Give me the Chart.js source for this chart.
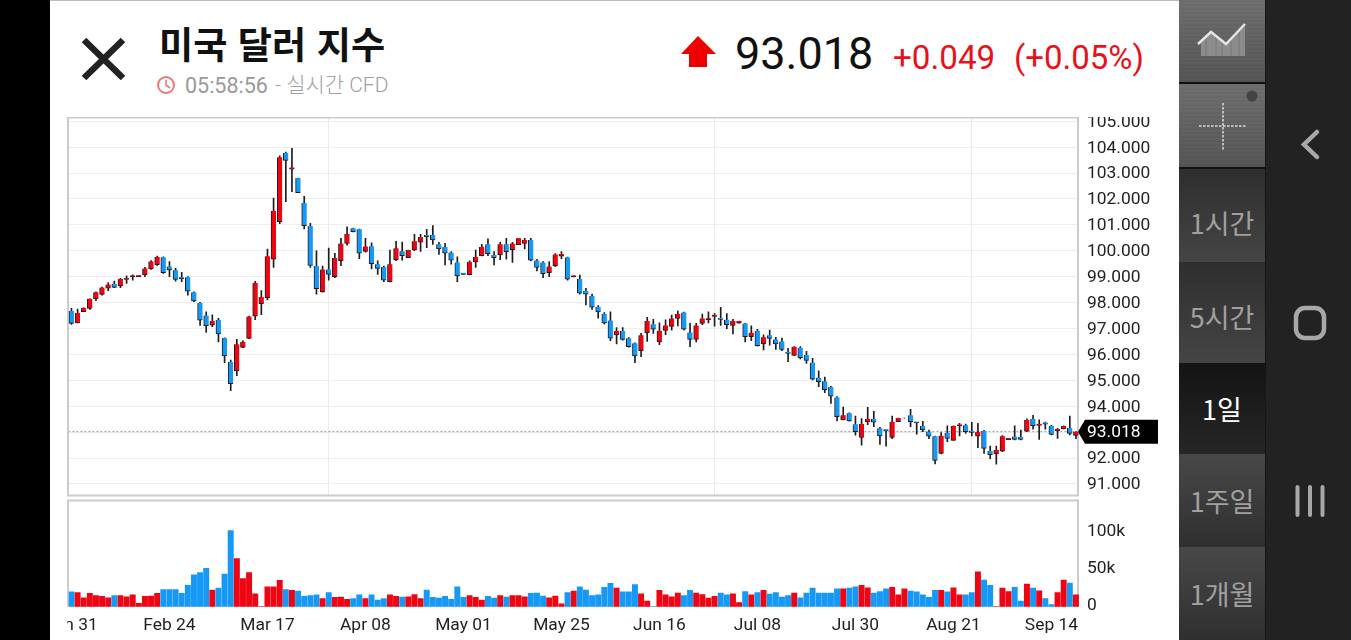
<!DOCTYPE html>
<html lang="ko">
<head>
<meta charset="utf-8">
<title>미국 달러 지수</title>
<script src="https://cdn.jsdelivr.net/npm/chart.js@4"></script>
<style>
  html, body { margin: 0; width: 1351px; height: 640px; overflow: hidden; background: #000; }
  body { position: relative; font-family: Roboto, "Noto Sans CJK KR", sans-serif; }
  #panel { position: absolute; left: 50px; top: 0; width: 1129px; height: 640px; background: #fff; border-top: 1px solid #bbb; box-sizing: border-box; }
  canvas { position: absolute; }
  #plotPrecio { left: 67px; top: 117px; }
  #plotVolumen { left: 67px; top: 498px; }
  .txt { position: absolute; white-space: nowrap; line-height: 1; }
  #titulo { left: 159px; top: 25px; font: 700 37.2px/1 "Noto Sans CJK KR"; color: #111; }
  #hora { left: 185px; top: 75px; font-size: 21.5px; color: #999; }
  #fuente { left: 275px; top: 75px; font: 300 21px/1 Roboto, "Noto Sans CJK KR"; color: #a0a0a0; }
  #precio { left: 735px; top: 31px; font-size: 45px; color: #111; }
  #cambio { left: 893px; top: 41px; font-size: 33.2px; color: #e8101a; }
  #cambioPct { left: 1014px; top: 41px; font-size: 33px; color: #e8101a; }
  #lado { position: absolute; left: 1179px; top: 0; width: 87px; height: 640px; background: #222; border-right: 1px solid #151515; box-sizing: border-box; }
  .boton { position: absolute; left: 0; width: 86px; box-sizing: border-box; display: flex; align-items: center; justify-content: center; font: 400 27px/1 "Noto Sans CJK KR"; color: #a0a0a0; }
  .claro { background: repeating-linear-gradient(rgba(0,0,0,.04) 0 2px, rgba(0,0,0,0) 2px 4px), linear-gradient(#707070, #565656); border-bottom: 2px solid #111; }
  .oscuro { background: linear-gradient(#2e2e2e, #454545); }
  .oscuro2 { background: linear-gradient(#484848, #2f2f2f); }
  .activo { background: linear-gradient(#141414, #262626); color: #fff; }
  #nav { position: absolute; left: 1266px; top: 0; width: 85px; height: 640px; background: #222; }
  svg { position: absolute; }
</style>
</head>
<body>
<div id="panel"></div>

<svg style="left:80px;top:35px" width="48" height="48"><path d="M4 5 L43 43 M43 5 L4 43" stroke="#222" stroke-width="6.5" fill="none"/></svg>
<div class="txt" id="titulo">미국 달러 지수</div>
<svg style="left:156px;top:75px" width="20" height="20"><circle cx="10" cy="10" r="8" stroke="#e77" stroke-width="2" fill="none"/><path d="M10 5 V10 L14 13" stroke="#e77" stroke-width="1.6" fill="none"/></svg>
<div class="txt" id="hora">05:58:56</div>
<div class="txt" id="fuente">- 실시간 CFD</div>
<svg style="left:680px;top:35px" width="38" height="34"><path d="M18 1 L36 19 H27 V32 H9 V19 H1 Z" fill="#ee0000"/></svg>
<div class="txt" id="precio">93.018</div>
<div class="txt" id="cambio">+0.049</div>
<div class="txt" id="cambioPct">(+0.05%)</div>

<canvas id="plotPrecio" width="1111" height="381"></canvas>
<canvas id="plotVolumen" width="1111" height="142"></canvas>

<div id="lado">
  <div class="boton claro" style="top:0;height:84px">
    <svg style="left:17px;top:18px" width="54" height="42"><path d="M5 24 L15 15 V38 H5 Z M15 15 L30 27 L49 8 V38 H15 Z" fill="#8c8c8c"/><path d="M10 20 V38 M20 19 V38 M26 24 V38 M35 22 V38 M43 14 V38" stroke="#777" stroke-width="1"/><path d="M2 26 L15 14 L30 26 L49 6" stroke="#e4e4e4" stroke-width="2.5" fill="none"/></svg>
  </div>
  <div class="boton claro" style="top:84px;height:85px">
    <svg style="left:19px;top:17px" width="50" height="50"><path d="M1 25 H48 M25 2 V49" stroke="#ddd" stroke-width="1.5" stroke-dasharray="2.5 1.5" fill="none"/></svg>
    <svg style="left:66px;top:5px" width="14" height="14"><circle cx="7" cy="7" r="5.5" fill="#444"/></svg>
  </div>
  <div class="boton oscuro" style="top:169px;height:93px;padding-top:14px">1시간</div>
  <div class="boton oscuro" style="top:262px;height:101px;padding-top:8px">5시간</div>
  <div class="boton activo" style="top:363px;height:91px">1일</div>
  <div class="boton oscuro2" style="top:454px;height:93px">1주일</div>
  <div class="boton oscuro2" style="top:547px;height:93px">1개월</div>
</div>

<div id="nav">
  <svg style="left:30px;top:125px" width="30" height="38"><path d="M21 7 L8 19.5 L21 32" stroke="#a8a8a8" stroke-width="4.5" fill="none" stroke-linecap="round"/></svg>
  <svg style="left:24px;top:302px" width="40" height="42"><rect x="6" y="6" width="28" height="30" rx="9" stroke="#a8a8a8" stroke-width="4.5" fill="none"/></svg>
  <svg style="left:26px;top:482px" width="40" height="38"><path d="M5.5 5 V33 M18 5 V33 M30.5 5 V33" stroke="#a8a8a8" stroke-width="4" fill="none" stroke-linecap="round"/></svg>
</div>

<script>
// datos
const tickLabels = ['Jan 31', 'Feb 24', 'Mar 17', 'Apr 08', 'May 01', 'May 25', 'Jun 16', 'Jul 08', 'Jul 30', 'Aug 21', 'Sep 14'];
const cadaTick = 16;
const lineasMes = [42, 105, 147];
const ticksVolumen = [0, 50000, 100000];
const precioActual = 93.018;

const opens = [
  97.68, 97.22, 97.65, 97.78, 98.15, 98.32, 98.56, 98.73, 98.64, 98.89,
  98.99, 99.00, 99.08, 99.30, 99.46, 99.75, 99.39, 99.25, 98.96, 98.98,
  98.40, 97.98, 97.50, 97.13, 97.33, 96.63, 95.71, 95.36, 96.27, 96.62,
  97.48, 97.96, 98.19, 99.68, 101.12, 103.78, 103.15, 102.81, 101.85, 100.96,
  99.41, 98.41, 99.28, 99.00, 99.62, 100.28, 100.87, 100.83, 99.98, 100.18,
  99.48, 99.37, 98.81, 99.66, 99.98, 99.73, 100.03, 100.33, 100.58, 100.61,
  100.25, 100.15, 99.93, 99.55, 99.10, 99.08, 99.57, 99.81, 100.25, 99.84,
  99.85, 100.25, 100.04, 100.24, 100.28, 100.42, 99.63, 99.55, 99.16, 99.43,
  99.79, 99.75, 98.99, 98.91, 98.46, 98.25, 97.84, 97.56, 97.31, 96.75,
  96.90, 96.62, 96.43, 96.14, 96.84, 97.16, 96.48, 96.93, 97.08, 97.39,
  97.62, 96.85, 96.58, 97.20, 97.34, 97.47, 97.39, 97.34, 97.12, 97.21,
  97.19, 96.68, 96.91, 96.40, 96.74, 96.58, 96.50, 96.10, 95.96, 96.26,
  95.98, 95.68, 95.10, 94.96, 94.74, 94.34, 93.48, 93.73, 93.30, 92.79,
  93.39, 93.52, 93.15, 93.06, 92.79, 93.40, 93.54, 93.65, 93.37, 93.24,
  93.02, 92.84, 92.18, 92.97, 92.68, 93.24, 93.26, 93.00, 92.84, 93.04,
  92.27, 92.16, 92.26, 92.71, 92.83, 92.81, 93.04, 93.51, 93.26, 93.34,
  93.25, 93.06, 93.12, 93.16, 92.87
];
const highs = [
  97.78, 97.75, 97.80, 98.15, 98.42, 98.60, 98.77, 98.83, 98.94, 99.03,
  99.07, 99.02, 99.36, 99.62, 99.80, 99.77, 99.58, 99.32, 99.17, 99.00,
  98.42, 98.01, 97.64, 97.53, 97.39, 96.64, 95.78, 96.58, 96.52, 97.48,
  98.82, 98.46, 100.07, 102.04, 103.67, 103.81, 103.96, 102.81, 102.10, 101.06,
  100.00, 99.41, 100.10, 99.90, 100.48, 100.93, 100.88, 100.84, 100.48, 100.31,
  99.61, 99.41, 100.03, 100.37, 100.34, 100.03, 100.64, 100.64, 100.83, 100.97,
  100.33, 100.29, 99.97, 99.77, 99.10, 99.61, 100.03, 100.25, 100.46, 99.97,
  100.33, 100.48, 100.33, 100.48, 100.48, 100.48, 99.67, 99.58, 99.58, 99.89,
  99.97, 99.76, 99.03, 99.06, 98.55, 98.33, 97.88, 97.61, 97.64, 97.04,
  97.04, 96.65, 96.45, 96.81, 97.43, 97.35, 97.22, 97.33, 97.52, 97.67,
  97.63, 97.20, 97.20, 97.56, 97.64, 97.58, 97.82, 97.58, 97.35, 97.29,
  97.20, 97.10, 96.97, 96.76, 96.94, 96.66, 96.63, 96.23, 96.30, 96.30,
  96.12, 95.85, 95.37, 95.12, 94.77, 94.37, 93.97, 93.74, 93.62, 93.52,
  93.96, 93.80, 93.18, 93.08, 93.62, 93.54, 93.54, 93.88, 93.37, 93.42,
  93.08, 92.85, 92.98, 93.24, 93.24, 93.34, 93.31, 93.38, 93.34, 93.07,
  92.46, 92.46, 92.87, 92.73, 93.24, 93.08, 93.51, 93.65, 93.47, 93.39,
  93.26, 93.15, 93.24, 93.62, 93.02
];
const lows = [
  97.16, 97.22, 97.65, 97.74, 98.07, 98.29, 98.46, 98.58, 98.58, 98.74,
  98.87, 99.00, 99.00, 99.28, 99.44, 99.13, 99.00, 98.83, 98.81, 98.29,
  98.04, 97.12, 96.85, 97.07, 96.48, 95.68, 94.60, 95.18, 96.26, 96.61,
  97.34, 97.53, 98.10, 99.36, 101.05, 101.90, 102.28, 102.24, 100.84, 99.36,
  98.33, 98.40, 98.87, 98.96, 99.43, 100.22, 100.73, 99.70, 99.95, 99.30,
  99.09, 98.81, 98.80, 99.62, 99.64, 99.73, 100.00, 99.98, 100.12, 100.25,
  99.86, 99.45, 99.48, 98.81, 99.09, 99.07, 99.36, 99.80, 99.81, 99.45,
  99.66, 99.68, 99.55, 100.24, 100.07, 99.61, 99.22, 98.96, 99.00, 99.39,
  99.70, 98.87, 98.99, 98.33, 97.91, 97.74, 97.40, 97.17, 96.53, 96.40,
  96.55, 96.28, 95.68, 95.91, 96.50, 96.81, 96.38, 96.76, 96.94, 97.10,
  96.94, 96.30, 96.48, 97.15, 97.22, 97.09, 97.12, 96.99, 96.79, 97.21,
  96.48, 96.53, 96.32, 96.17, 96.36, 96.19, 96.14, 95.72, 95.96, 95.83,
  95.65, 95.01, 94.75, 94.52, 94.11, 93.43, 93.47, 93.42, 92.88, 92.50,
  93.29, 93.21, 92.52, 92.46, 92.75, 93.40, 93.54, 93.21, 92.92, 93.02,
  92.75, 91.77, 92.16, 92.63, 92.68, 92.85, 92.95, 92.85, 92.40, 92.18,
  91.97, 91.76, 92.24, 92.71, 92.70, 92.70, 93.02, 93.11, 92.72, 93.11,
  92.89, 92.76, 93.12, 92.89, 92.75
];
const closes = [
  97.20, 97.60, 97.80, 98.15, 98.40, 98.58, 98.70, 98.59, 98.91, 98.95,
  99.01, 99.02, 99.32, 99.59, 99.76, 99.16, 99.26, 98.89, 98.92, 98.44,
  98.06, 97.32, 97.11, 97.29, 96.79, 95.94, 94.87, 96.39, 96.49, 97.46,
  98.76, 98.22, 99.79, 101.54, 103.61, 103.49, 103.22, 102.24, 100.97, 99.44,
  98.54, 99.28, 99.09, 99.72, 100.28, 100.65, 100.74, 99.91, 100.17, 99.50,
  99.32, 98.87, 99.48, 100.10, 99.81, 100.03, 100.37, 100.53, 100.55, 100.42,
  100.07, 99.91, 99.64, 99.03, 99.09, 99.57, 99.76, 100.15, 99.89, 99.73,
  100.25, 99.97, 100.28, 100.48, 100.42, 99.64, 99.36, 99.12, 99.39, 99.86,
  99.88, 98.90, 99.03, 98.36, 98.33, 97.82, 97.64, 97.22, 96.63, 96.91,
  96.58, 96.30, 95.94, 96.74, 97.29, 96.97, 96.91, 97.12, 97.39, 97.56,
  96.97, 96.58, 97.12, 97.39, 97.39, 97.49, 97.35, 97.15, 97.29, 97.29,
  96.68, 96.84, 96.34, 96.66, 96.62, 96.40, 96.19, 96.04, 96.30, 95.87,
  95.77, 95.04, 94.95, 94.64, 94.39, 93.60, 93.65, 93.43, 93.02, 93.31,
  93.52, 93.38, 92.85, 93.05, 93.40, 93.54, 93.54, 93.40, 93.35, 93.08,
  92.84, 91.91, 92.86, 92.76, 93.24, 93.27, 93.02, 92.99, 93.00, 92.37,
  92.13, 92.31, 92.84, 92.73, 92.72, 92.72, 93.47, 93.25, 93.30, 93.31,
  92.91, 93.08, 93.24, 92.95, 93.018
];
const volumes = [
  20000, 19000, 12000, 18000, 15000, 14000, 12000, 15000, 15000, 13500,
  16000, 4500, 14000, 14500, 18000, 23000, 23000, 23000, 18000, 29000,
  43000, 46000, 52000, 22500, 25000, 44000, 103000, 65000, 38000, 46000,
  17500, 0, 27000, 27000, 35500, 23000, 22000, 21000, 14000, 15000,
  16000, 11000, 19000, 12500, 13000, 10000, 11000, 16000, 11000, 16000,
  9000, 11000, 16000, 14000, 13000, 13500, 16500, 11000, 22500, 12500,
  11500, 14000, 10000, 27000, 12500, 15000, 12500, 9000, 14000, 11500,
  15000, 13000, 15000, 15000, 13500, 18000, 18500, 14500, 12000, 14500,
  4000, 19000, 21000, 27000, 22500, 15000, 16000, 26000, 31500, 25000,
  20000, 20000, 30000, 17500, 7500, 0, 22000, 16000, 13500, 18500,
  15000, 22000, 18500, 16500, 11500, 14000, 18500, 16000, 17500, 5500,
  20500, 16000, 19000, 22000, 17000, 19000, 13000, 15000, 18500, 12000,
  18500, 25000, 18500, 18500, 18500, 24000, 24000, 25000, 27000, 29000,
  25500, 18500, 20500, 24000, 26000, 16000, 24000, 21000, 20000, 16000,
  12500, 22000, 22000, 20000, 25500, 16000, 16000, 19000, 47000, 36000,
  29000, 0, 25000, 20500, 26000, 7500, 30500, 25000, 21500, 11000,
  3000, 19000, 36000, 32000, 16000
];

const ROJO = '#ee0412';
const AZUL = '#1699f6';
const TINTA = '#1c1c1c';
const FUENTE = 'Roboto';
const COLOR_TEXTO = '#222';

Chart.defaults.font.family = FUENTE;
Chart.defaults.font.size = 17.4;
Chart.defaults.color = COLOR_TEXTO;
Chart.defaults.animation = false;
Chart.defaults.responsive = false;

let etiquetas = opens.map((_, i) => i % cadaTick === 0 ? tickLabels[i / cadaTick] : '');
let colores = opens.map((o, i) => closes[i] >= o ? ROJO : AZUL);

// marco y linea punteada del precio actual, por debajo de las velas
let marcoPrecio = {
  id: 'marcoPrecio',
  beforeDatasetsDraw(chart) {
    let {ctx, chartArea: a, scales} = chart;
    let y = scales.y.getPixelForValue(precioActual);
    ctx.save();
    ctx.strokeStyle = '#999';
    ctx.lineWidth = 1;
    ctx.setLineDash([2, 2]);
    ctx.beginPath();
    ctx.moveTo(a.left, y);
    ctx.lineTo(a.right, y);
    ctx.stroke();
    ctx.setLineDash([]);
    ctx.strokeStyle = '#ccc';
    ctx.lineWidth = 2;
    ctx.strokeRect(a.left - 0.4, a.top - 0.5, a.width - 0.6, a.height);
    ctx.restore();
  },
  afterDraw(chart) {
    let {ctx, chartArea: a, scales} = chart;
    let y = scales.y.getPixelForValue(precioActual);
    ctx.save();
    ctx.fillStyle = '#000';
    ctx.beginPath();
    ctx.moveTo(a.right - 1, y);
    ctx.lineTo(a.right + 6, y - 12);
    ctx.lineTo(a.right + 79, y - 12);
    ctx.lineTo(a.right + 79, y + 12);
    ctx.lineTo(a.right + 6, y + 12);
    ctx.closePath();
    ctx.fill();
    ctx.fillStyle = '#fff';
    ctx.font = '17.4px ' + FUENTE;
    ctx.textBaseline = 'middle';
    ctx.fillText(precioActual.toFixed(3), a.right + 8, y + 1);
    ctx.restore();
  }
};

let marcoVolumen = {
  id: 'marcoVolumen',
  beforeDatasetsDraw(chart) {
    let {ctx, chartArea: a} = chart;
    ctx.save();
    ctx.strokeStyle = '#ccc';
    ctx.lineWidth = 2;
    ctx.beginPath();
    ctx.moveTo(a.left - 0.4, a.bottom);
    ctx.lineTo(a.left - 0.4, a.top - 0.5);
    ctx.lineTo(a.right - 1, a.top - 0.5);
    ctx.lineTo(a.right - 1, a.bottom);
    ctx.stroke();
    ctx.lineWidth = 1;
    ctx.strokeStyle = '#ddd';
    ctx.beginPath();
    ctx.moveTo(a.left, a.bottom);
    ctx.lineTo(a.right, a.bottom);
    ctx.stroke();
    ctx.restore();
  }
};

let cargarPrecio = () => {
  let plotRef = document.getElementById('plotPrecio');
  let config = {
    type: 'bar',
    data: {
      labels: etiquetas,
      datasets: [
        {
          label: 'Mecha',
          order: 2,
          data: lows.map((l, i) => [l, highs[i]]),
          barThickness: 1,
          backgroundColor: TINTA,
          grouped: false
        },
        {
          label: 'Cuerpo',
          order: 1,
          // una vela sin rango no deja marca
          data: opens.map((o, i) => highs[i] === lows[i] ? null : [o, closes[i]]),
          barThickness: 5,
          minBarLength: 1.5,
          backgroundColor: colores,
          borderColor: TINTA,
          borderWidth: {left: 1, bottom: 1, top: 0, right: 0},
          borderSkipped: false,
          grouped: false
        }
      ]
    },
    options: {
      layout: {padding: {left: 1.4, top: 1, bottom: 2, right: 0}},
      plugins: {legend: {display: false}, tooltip: {enabled: false}},
      scales: {
        x: {
          ticks: {display: false, autoSkip: false},
          border: {display: false},
          grid: {
            offset: false,
            drawTicks: false,
            color: c => lineasMes.includes(c.index) ? '#ebebeb' : 'rgba(0,0,0,0)'
          },
          afterFit: s => { s.height = 0; s.paddingLeft = 0; s.paddingRight = 0; }
        },
        y: {
          position: 'right',
          min: 90.533,
          max: 105.127,
          border: {display: false},
          grid: {color: '#eee', drawTicks: false},
          ticks: {
            stepSize: 1,
            includeBounds: false,
            padding: 8,
            labelOffset: 1,
            callback: v => v.toFixed(3)
          },
          afterFit: s => { s.width = 99; s.paddingTop = 0; s.paddingBottom = 0; }
        }
      }
    },
    plugins: [marcoPrecio]
  };
  new Chart(plotRef, config);
}

let cargarVolumen = () => {
  let plotRef = document.getElementById('plotVolumen');
  let config = {
    type: 'bar',
    data: {
      labels: etiquetas,
      datasets: [
        {
          label: 'Volumen',
          data: volumes,
          barThickness: 5.3,
          backgroundColor: colores
        }
      ]
    },
    options: {
      layout: {padding: {left: 1.4, top: 3, bottom: 0, right: 0}},
      plugins: {legend: {display: false}, tooltip: {enabled: false}},
      scales: {
        x: {
          border: {display: false},
          grid: {display: false},
          ticks: {autoSkip: false, maxRotation: 0, padding: 1, callback: (v, i) => etiquetas[i]},
          afterFit: s => { s.height = 33.3; s.paddingLeft = 0; s.paddingRight = 0; }
        },
        y: {
          position: 'right',
          min: 0,
          max: 142800,
          border: {display: false},
          grid: {display: false, drawTicks: false},
          afterBuildTicks: s => { s.ticks = ticksVolumen.map(value => ({value})); },
          ticks: {
            padding: 8,
            labelOffset: -1.5,
            callback: v => v === 0 ? '0' : (v / 1000) + 'k'
          },
          afterFit: s => { s.width = 99; s.paddingTop = 0; s.paddingBottom = 0; }
        }
      }
    },
    plugins: [marcoVolumen]
  };
  new Chart(plotRef, config);
}

cargarPrecio()
cargarVolumen()
</script>
</body>
</html>
